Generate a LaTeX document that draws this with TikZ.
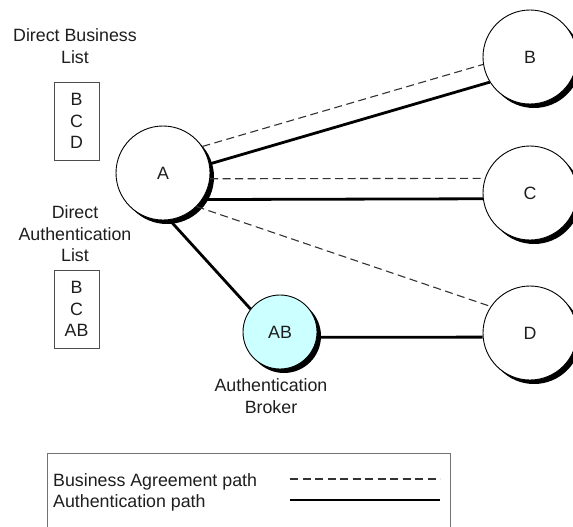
\documentclass[tikz,border=0pt]{standalone}
\usepackage{fontspec}
\setmainfont{Liberation Sans}
\usetikzlibrary{shadows}
\definecolor{brokerfill}{RGB}{204,255,255}
\definecolor{ink}{RGB}{30,30,30}
\begin{document}
\begin{tikzpicture}[x=1pt,y=-1pt,
  every node/.style={font=\fontsize{17.8}{21.5}\selectfont, text=ink},
  peer/.style={circle, draw=black, line width=0.9pt, fill=white,
    minimum size=94pt, inner sep=0pt,
    drop shadow={shadow xshift=4pt, shadow yshift=-4pt, fill=black, opacity=1}},
  listbox/.style={draw=black!70, line width=0.8pt, align=center,
    minimum width=45pt, minimum height=78pt, inner sep=0pt},
  bizpath/.style={draw=black!80, line width=1.1pt, dash pattern=on 8pt off 4.5pt},
  authpath/.style={draw=black, line width=2.8pt}
]
\clip (0,0) rectangle (573,527);
\fill[white] (0,0) rectangle (573,527);

% sites and the broker
\node[peer] (A) at (163,173) {A};
\node[peer] (B) at (530,57) {B};
\node[peer] (C) at (530,193) {C};
\node[peer] (D) at (530,333) {D};
\node[peer, fill=brokerfill, minimum size=74pt] (AB) at (280,332) {AB};

% paths between sites
\draw[bizpath] (A.34) -- (B.189);
\draw[authpath] (A.11) -- (B.212);
\draw[bizpath] (A.-7.5) -- (C.162);
\draw[authpath] (A.-34) -- (C.187.5);
\draw[bizpath] (A.-45) -- (D.146);
\draw[authpath] (A.-82) -- (AB.142);
\draw[authpath] (AB.-8) -- (D.185);

% lists kept by A
\node[align=center] (dbltitle) at (75,46) {Direct Business\\List};
\node[listbox] (dbl) at (76.5,121) {B\\C\\D};
\node[align=center] (daltitle) at (75,234) {Direct\\Authentication\\List};
\node[listbox] (dal) at (76.5,309) {B\\C\\AB};
\node[align=center] (brokerlbl) at (271,396) {Authentication\\Broker};

% legend
\node[draw=black!55, line width=1.2pt, minimum width=403pt, minimum height=90pt,
  anchor=north west, inner sep=0pt] (legend) at (47,453) {};
\node[anchor=west, inner sep=0pt] (bizlbl) at (53,482) {Business Agreement path};
\node[anchor=west, inner sep=0pt] (authlbl) at (53,503) {Authentication path};
\coordinate (bizs) at (290,479);
\coordinate (bize) at (440,479);
\coordinate (auths) at (290,500);
\coordinate (authe) at (440,500);
\draw[bizpath] (bizs) -- (bize);
\draw[authpath] (auths) -- (authe);
\end{tikzpicture}
\end{document}
